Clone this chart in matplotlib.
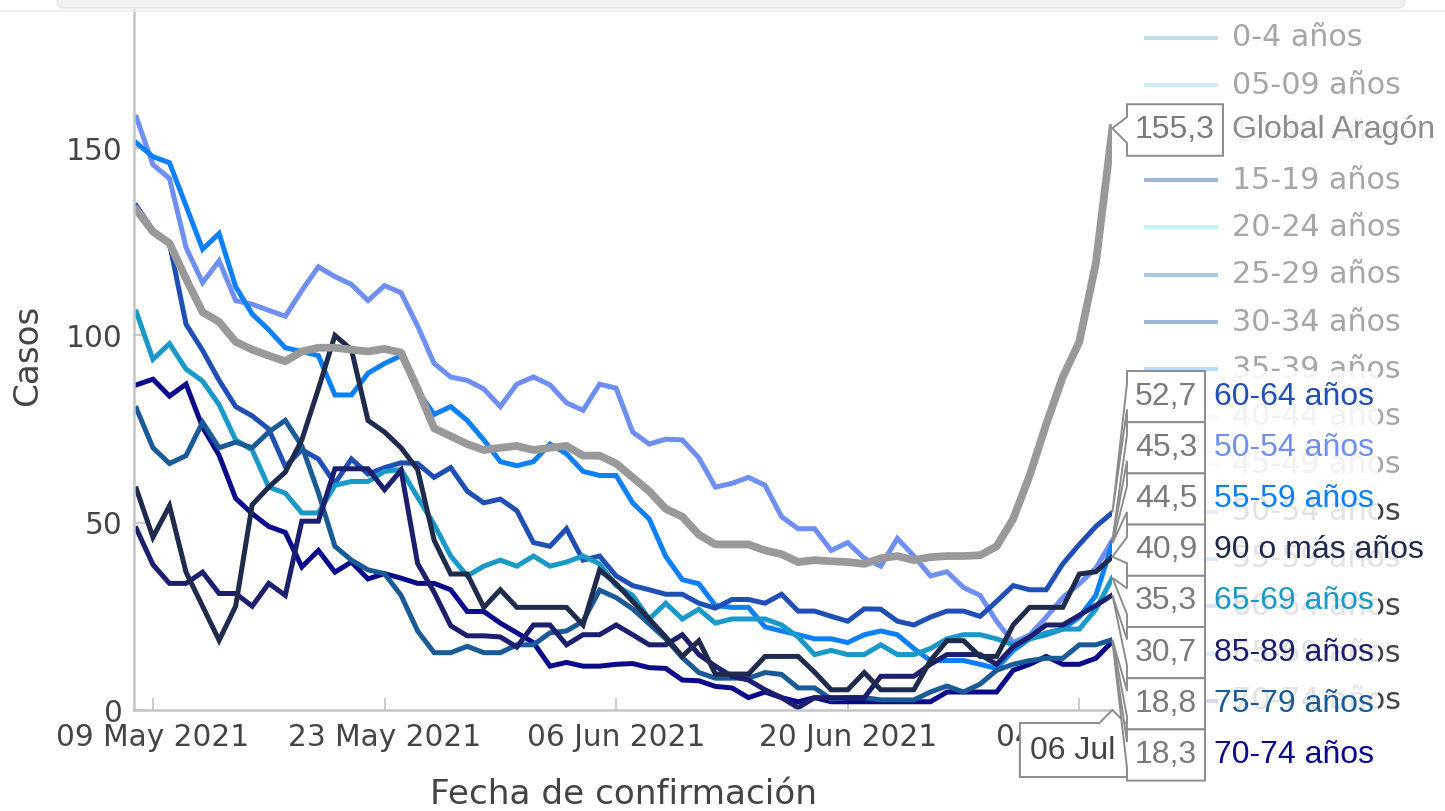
import matplotlib
matplotlib.use('Agg')
import matplotlib.pyplot as plt
import matplotlib.dates as mdates
import pandas as pd
from matplotlib.patches import Polygon, Rectangle, FancyBboxPatch

# ---------------- data ----------------
dates = pd.date_range('2021-05-08', '2021-07-06', freq='D')

g_50_54 = [158.2, 145.6, 141.9, 123.5, 114.1, 119.9, 109.3, 108.3, 106.7, 105.1,
           112.0, 118.3, 115.7, 113.6, 109.3, 113.3, 111.4, 102.5, 92.5, 88.9,
           88.0, 85.7, 81.0, 87.0, 88.9, 86.8, 82.0, 80.0, 87.0, 85.9,
           74.2, 71.0, 72.3, 72.1, 67.3, 59.5, 60.5, 62.1, 60.0, 51.6,
           48.4, 48.4, 42.6, 44.7, 40.5, 38.4, 45.8, 41.1, 35.8, 36.9,
           32.7, 30.6, 23.7, 18.0, 20.0, 24.8, 30.0, 33.7, 37.9, 45.3]
g_55_59 = [151.4, 147.7, 146.1, 134.6, 123.0, 127.2, 113.0, 105.7, 101.5, 96.7,
           95.7, 94.6, 84.1, 84.1, 89.9, 92.5, 94.6, 85.2, 78.9, 81.0,
           77.3, 72.1, 66.3, 65.2, 66.3, 71.0, 68.4, 63.7, 62.6, 62.6,
           55.3, 51.0, 41.0, 34.8, 33.7, 27.9, 27.4, 27.4, 22.2, 21.1,
           20.1, 19.0, 19.0, 18.0, 20.1, 21.1, 20.1, 16.4, 13.2, 13.2,
           13.2, 12.2, 11.1, 15.9, 19.0, 20.1, 21.6, 24.8, 30.6, 44.5]
g_60_64 = [134.6, 128.0, 124.6, 103.0, 96.0, 88.0, 81.0, 78.5, 75.0, 65.0,
           69.5, 67.0, 60.5, 67.0, 63.0, 64.7, 66.0, 65.8, 62.1, 64.7,
           58.4, 55.3, 56.3, 53.2, 44.7, 43.7, 48.4, 40.0, 41.1, 35.8,
           33.2, 32.1, 30.9, 30.9, 28.5, 27.2, 29.5, 29.5, 28.5, 30.9,
           26.4, 26.4, 25.0, 23.7, 27.0, 26.9, 23.7, 22.7, 24.8, 26.4,
           26.4, 25.0, 29.0, 33.2, 32.1, 32.1, 39.0, 44.2, 49.0, 52.7]
g_65_69 = [106.2, 93.6, 97.8, 91.0, 87.8, 81.5, 72.1, 69.4, 59.5, 57.9,
           52.6, 52.6, 60.0, 61.0, 61.0, 63.7, 64.2, 56.8, 49.5, 41.1,
           35.8, 38.4, 40.0, 38.4, 41.1, 38.4, 39.5, 41.1, 39.0, 33.2,
           30.6, 24.3, 28.5, 24.3, 26.9, 23.2, 24.3, 24.3, 24.3, 22.7,
           19.5, 14.8, 15.9, 14.8, 14.8, 17.4, 14.8, 14.8, 16.4, 19.0,
           20.1, 20.1, 19.0, 17.4, 19.0, 20.6, 21.6, 21.6, 26.9, 35.3]
g_70_74 = [86.8, 88.3, 83.8, 87.0, 75.5, 68.0, 56.5, 52.4, 49.0, 47.4,
           38.2, 42.6, 36.8, 39.5, 35.0, 36.4, 35.2, 33.8, 33.8, 32.1,
           26.3, 26.3, 23.2, 20.6, 18.0, 11.7, 12.7, 11.7, 11.7, 12.2,
           12.4, 11.3, 11.1, 8.0, 7.8, 6.3, 5.9, 3.3, 4.8, 3.3,
           2.2, 3.3, 2.2, 2.2, 2.2, 2.2, 2.2, 2.2, 2.2, 4.8,
           4.8, 4.8, 4.8, 10.6, 12.2, 14.3, 12.2, 12.2, 13.8, 18.3]
g_75_79 = [80.5, 70.0, 65.8, 67.9, 76.8, 70.0, 71.5, 70.0, 74.2, 77.3,
           70.5, 58.0, 43.7, 40.0, 37.4, 36.4, 30.6, 21.1, 15.3, 15.3,
           17.0, 15.3, 15.3, 17.4, 17.4, 20.6, 21.1, 23.7, 32.0, 30.0,
           27.0, 23.0, 19.0, 14.0, 10.0, 8.5, 8.5, 8.5, 10.0, 9.5,
           5.9, 5.9, 2.9, 3.3, 3.3, 2.7, 2.7, 2.7, 4.8, 6.4,
           4.8, 6.9, 10.6, 12.2, 13.2, 13.8, 13.8, 17.4, 17.4, 18.8]
g_85_89 = [48.4, 38.8, 33.8, 33.8, 36.8, 31.1, 31.1, 27.7, 33.8, 30.6,
           50.4, 50.4, 64.4, 64.4, 64.4, 58.8, 64.0, 39.1, 31.4, 22.5,
           19.8, 19.8, 19.5, 16.8, 22.7, 22.7, 17.4, 20.1, 20.1, 22.7,
           20.1, 17.4, 17.4, 20.1, 14.8, 11.7, 9.0, 8.0, 5.4, 3.3,
           0.6, 3.3, 3.3, 3.3, 3.3, 9.0, 9.0, 9.0, 12.2, 14.8,
           14.8, 14.8, 12.2, 16.9, 19.5, 22.7, 22.7, 25.3, 27.9, 30.7]
g_90_mas = [59.0, 46.1, 54.5, 36.8, 27.7, 18.6, 27.7, 54.8, 59.5, 63.5,
            72.1, 85.7, 100.0, 96.2, 77.3, 74.2, 70.0, 64.2, 45.3, 36.3,
            36.3, 27.4, 32.1, 27.4, 27.4, 27.4, 27.4, 22.7, 37.4, 33.7,
            29.0, 24.3, 19.5, 14.3, 18.5, 9.6, 9.6, 9.6, 14.3, 14.3,
            14.3, 10.1, 5.4, 5.4, 10.0, 5.4, 5.4, 5.4, 13.2, 18.5,
            18.5, 14.3, 14.3, 22.7, 27.4, 27.4, 27.4, 36.3, 36.9, 40.9]
global_aragon = [133.5, 127.7, 124.6, 115.1, 106.2, 103.6, 98.3, 96.2, 94.6, 93.1,
                 95.7, 96.7, 96.7, 96.2, 95.7, 96.4, 95.4, 85.7, 75.2, 73.1,
                 71.0, 69.4, 70.0, 70.5, 69.4, 70.0, 70.5, 67.9, 67.9, 65.8,
                 62.1, 58.4, 53.7, 51.6, 46.8, 44.2, 44.2, 44.2, 42.6, 41.6,
                 39.5, 40.0, 39.7, 39.5, 39.0, 40.5, 41.1, 40.0, 40.8, 41.1,
                 41.1, 41.3, 43.7, 51.0, 62.6, 76.3, 88.9, 98.3, 119.3, 155.3]

series_names = ["50-54 años", "55-59 años", "60-64 años", "65-69 años",
                "70-74 años", "75-79 años", "85-89 años", "90 o más años"]
series_values = [g_50_54, g_55_59, g_60_64, g_65_69, g_70_74, g_75_79, g_85_89, g_90_mas]
series_colors = ["#6e8ff0", "#0d80f5", "#1f4fb5", "#1a98c8",
                 "#0a0a8a", "#1a5a96", "#1b1f6e", "#1f2b4c"]
global_name = "Global Aragón"
global_color = "#999999"

legend_names = ["0-4 años", "05-09 años", "10-14 años", "15-19 años", "20-24 años",
                "25-29 años", "30-34 años", "35-39 años", "40-44 años", "45-49 años",
                "50-54 años", "55-59 años", "60-64 años", "65-69 años", "70-74 años"]
legend_colors = ["#c2dfea", "#cdebf0", "#b8d8e8", "#9bb7d1", "#bdf4fa",
                 "#a5cae6", "#9cb8da", "#b5dcf8", "#dde2f5", "#cfeef0",
                 "#6e8ff0", "#0d80f5", "#1f4fb5", "#1a98c8", "#0a0a8a"]
legend_visible = [False] * 10 + [True] * 5

xtick_dates = ["2021-05-09", "2021-05-23", "2021-06-06", "2021-06-20", "2021-07-04"]
ytick_vals = [0, 50, 100, 150]

# ---------------- layout ----------------
W, H = 1445, 811
fig = plt.figure(figsize=(W / 100, H / 100), dpi=100)
fig.patch.set_facecolor('white')


def fx(px):
    return px / W


def fy(py):
    return 1 - py / H


ax_l, ax_r, ax_t, ax_b = 134.0, 1112.4, 10.0, 710.0
ax = fig.add_axes([fx(ax_l), fy(ax_b), (ax_r - ax_l) / W, (ax_b - ax_t) / H], zorder=1)

x0 = mdates.date2num(dates[0]) - 2.4 / 16.54
x1 = mdates.date2num(dates[-1])
ax.set_xlim(x0, x1)
ax.set_ylim(0, (ax_b - ax_t) / 3.746)

for name, vals, col in zip(series_names, series_values, series_colors):
    ax.plot(dates, vals, color=col, lw=3.6, solid_joinstyle='miter')
ax.plot(dates, global_aragon, color=global_color, lw=5.6, solid_joinstyle='round')

ax.set_xticks([mdates.date2num(pd.Timestamp(d)) for d in xtick_dates])
ax.xaxis.set_major_formatter(mdates.DateFormatter('%d %b %Y'))
ax.set_yticks(ytick_vals)
ax.tick_params(direction='in', length=8.6, width=1.3, color='#c4c4c4',
               labelsize=21.3, labelcolor='#444444')
ax.tick_params(axis='x', pad=9)
ax.tick_params(axis='y', pad=8)
for s in ['top', 'right']:
    ax.spines[s].set_visible(False)
for s in ['left', 'bottom']:
    ax.spines[s].set_color('#c4c4c4')
    ax.spines[s].set_linewidth(1.8)

fig.text(fx(28), fy(355), 'Casos', rotation=90, fontsize=24.7, color='#444444',
         ha='center', va='center')
fig.text(fx(623), fy(795), 'Fecha de confirmación', fontsize=24.7, color='#444444',
         ha='center', va='center')

# ---------------- overlay (legend + hover labels) ----------------
oax = fig.add_axes([0, 0, 1, 1], zorder=5)
oax.set_xlim(0, W)
oax.set_ylim(H, 0)
oax.axis('off')

# top bar of the page
oax.add_patch(FancyBboxPatch((57, -12), 1348, 20, boxstyle='round,pad=0,rounding_size=8',
                             fc='#eef0f2', ec='#e3e5e8', lw=1))
oax.plot([0, W], [10.5, 10.5], color='#ececec', lw=1.2)


def to_overlay(xdate, y):
    disp = ax.transData.transform((mdates.date2num(xdate), y))
    return oax.transData.inverted().transform(disp)


# legend
for k, (nm, col, vis) in enumerate(zip(legend_names, legend_colors, legend_visible)):
    y = 38 + 47.35 * k
    oax.plot([1144, 1218], [y, y], color=col, lw=2.9, solid_capstyle='butt', zorder=1)
    oax.text(1232, y, nm, fontsize=21.7, color='#444444' if vis else '#a6a6a6',
             ha='left', va='center', zorder=1)

hfont = dict(family='Liberation Sans', fontsize=23)
renderer = fig.canvas.get_renderer()
box_edge = '#8c8c8c'


def fmt(v):
    return f"{v:.1f}".replace('.', ',')


# x hover label (date)
last_date = dates[-1]
px, py = to_overlay(last_date, 0)
xl_w = 185
xl_left, xl_top, xl_bot = px - xl_w / 2, 723, 777
oax.add_patch(Polygon([(xl_left, xl_top), (px - 13, xl_top), (px, py), (px + 13, xl_top),
                       (xl_left + xl_w, xl_top), (xl_left + xl_w, xl_bot), (xl_left, xl_bot)],
                      closed=True, fc='white', ec=box_edge, lw=1.4, zorder=6))
oax.text(px, (xl_top + xl_bot) / 2 + 1, last_date.strftime('%d %b %Y'), color='#444444',
         ha='center', va='center', zorder=7, **hfont)


def hover_label(value, name, color, top, height, vcolor='#7a7a7a'):
    pxx, pyy = to_overlay(last_date, value)
    txt = fmt(value)
    w = 78 if len(txt) <= 4 else 96
    left = 1127
    cy = top + height / 2
    bot = top + height
    t = oax.text(left + w + 9, cy, name, color=color, ha='left', va='center',
                 zorder=10, **hfont)
    ext = t.get_window_extent(renderer)
    xr = oax.transData.inverted().transform((ext.x1, ext.y0))[0]
    oax.add_patch(Rectangle((left + w, top), xr - (left + w) + 4, height,
                            fc='white', ec='none', alpha=0.85, zorder=8))
    oax.add_patch(Polygon([(left, top), (left + w, top), (left + w, bot), (left, bot),
                           (left, cy + 13), (pxx, pyy), (left, cy - 13)],
                          closed=True, fc='white', ec=box_edge, lw=1.4, zorder=9))
    oax.text(left + w / 2, cy, txt, color=vcolor, ha='center', va='center',
             zorder=10, **hfont)


# global label, centred on its point
gx, gy = to_overlay(last_date, global_aragon[-1])
hover_label(global_aragon[-1], global_name, '#8c8c8c', gy - 24, 51.5)

# stacked labels for age groups, sorted by value
order = sorted(range(len(series_names)), key=lambda i: -series_values[i][-1])
for rank, i in enumerate(order):
    hover_label(series_values[i][-1], series_names[i], series_colors[i],
                371 + 51.2 * rank, 51.2)

fig.savefig('out.png', dpi=100, facecolor='white')
